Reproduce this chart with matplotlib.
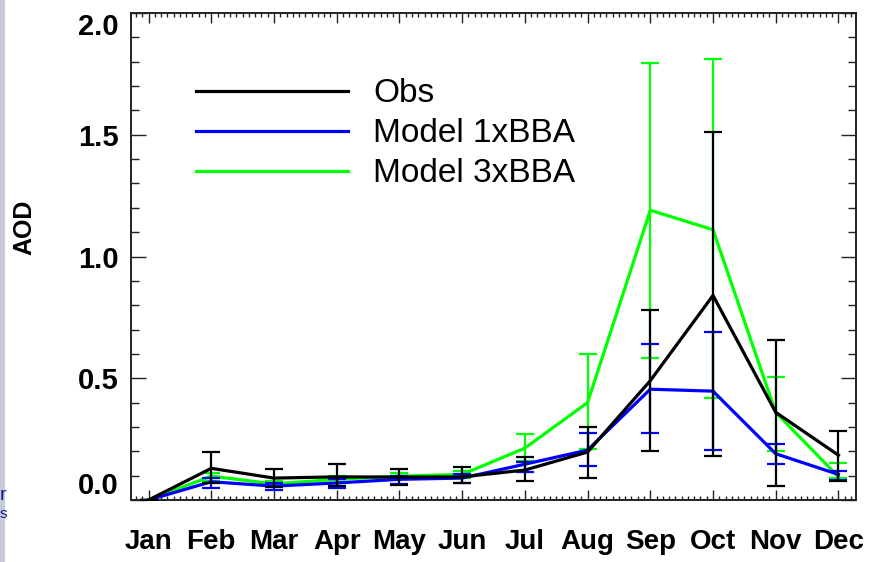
import numpy as np
import matplotlib
matplotlib.use("Agg")
import matplotlib.pyplot as plt
from matplotlib.ticker import MultipleLocator, FixedLocator
from matplotlib.patches import Rectangle

# ── Monthly AOD: observations vs two model runs ───────────────────────────────
months = ["Jan", "Feb", "Mar", "Apr", "May", "Jun",
          "Jul", "Aug", "Sep", "Oct", "Nov", "Dec"]

obs      = [0.00, 0.13, 0.09, 0.095, 0.094, 0.095, 0.123, 0.197, 0.49, 0.84, 0.36, 0.184]
obs_lo   = [0.00, 0.07, 0.053, 0.057, 0.060, 0.070, 0.078, 0.090, 0.20, 0.18, 0.057, 0.080]
obs_hi   = [0.00, 0.197, 0.127, 0.148, 0.127, 0.135, 0.175, 0.300, 0.78, 1.51, 0.656, 0.283]

bba1     = [0.00, 0.075, 0.057, 0.070, 0.085, 0.090, 0.147, 0.205, 0.455, 0.447, 0.190, 0.105]
bba1_lo  = [0.00, 0.050, 0.040, 0.050, 0.065, 0.070, 0.115, 0.140, 0.275, 0.205, 0.147, 0.082]
bba1_hi  = [0.00, 0.090, 0.070, 0.085, 0.100, 0.105, 0.155, 0.276, 0.640, 0.690, 0.230, 0.120]

bba3     = [0.00, 0.098, 0.066, 0.085, 0.098, 0.105, 0.213, 0.400, 1.19, 1.11, 0.360, 0.095]
bba3_lo  = [0.00, 0.080, 0.055, 0.070, 0.085, 0.090, 0.160, 0.210, 0.585, 0.420, 0.200, 0.090]
bba3_hi  = [0.00, 0.110, 0.080, 0.100, 0.110, 0.120, 0.270, 0.600, 1.795, 1.810, 0.505, 0.150]

x = np.arange(1, 13)

def err(v, lo, hi):
    v, lo, hi = map(np.asarray, (v, lo, hi))
    return np.vstack([v - lo, hi - v])

plt.rcParams["font.family"] = "Liberation Sans"

fig = plt.figure(figsize=(8.69, 5.62), dpi=100)
ax = fig.add_axes([131 / 869, 62 / 562, 725 / 869, 487 / 562])

# slide margin strip on the far left
fig.patches.append(Rectangle((0, 0), 5 / 869, 1, transform=fig.transFigure,
                             facecolor="#c6cadb", edgecolor="none", zorder=0))
fig.text(0.0, 62 / 562, "r", color="#14148a", fontsize=14, va="baseline", ha="left")
fig.text(0.0, 44 / 562, "s", color="#14148a", fontsize=11, va="baseline", ha="left")

ebkw = dict(capsize=6.5, capthick=1.6, elinewidth=1.6, linewidth=2.3)
ax.errorbar(x, bba3, yerr=err(bba3, bba3_lo, bba3_hi), color="#00ff00",
            label="Model 3xBBA", zorder=2, **ebkw)
ax.errorbar(x, bba1, yerr=err(bba1, bba1_lo, bba1_hi), color="#0000ff",
            label="Model 1xBBA", zorder=3, **ebkw)
ax.errorbar(x, obs, yerr=err(obs, obs_lo, obs_hi), color="black",
            label="Obs", zorder=4, **ebkw)

ax.set_xlim(0.72, 12.28)
ax.set_ylim(0, 2.0)

ax.xaxis.set_major_locator(FixedLocator(x))
ax.set_xticklabels(months, fontweight="bold")
ax.xaxis.set_minor_locator(MultipleLocator(0.1))
ax.set_yticks([0.0, 0.5, 1.0, 1.5, 2.0])
ax.set_yticklabels(["0.0", "0.5", "1.0", "1.5", "2.0"], fontweight="bold")
ax.yaxis.set_minor_locator(MultipleLocator(0.1))

ax.tick_params(axis="both", which="both", direction="in",
               top=True, right=True, width=1.0, color="#222222")
ax.tick_params(axis="x", which="major", length=7, pad=21, labelsize=20)
ax.tick_params(axis="x", which="minor", length=3)
ax.tick_params(axis="y", which="major", length=11, pad=9, labelsize=21)
ax.tick_params(axis="y", which="minor", length=5.5)

# keep the end labels inside the axis range
ylabels = ax.get_yticklabels()
ylabels[0].set_va("bottom")
ylabels[-1].set_va("top")

for s in ax.spines.values():
    s.set_linewidth(1.4)
    s.set_color("#222222")

ax.set_ylabel("AOD", fontsize=18, fontweight="bold")
ax.yaxis.set_label_coords(-0.130, 0.56)

handles, labels = ax.get_legend_handles_labels()
order = [2, 1, 0]
leg = ax.legend([handles[i][0] for i in order], [labels[i] for i in order],
                loc="upper left", bbox_to_anchor=(0.067, 0.9), frameon=False,
                prop={"family": "Liberation Sans", "size": 24},
                handlelength=4.55, handletextpad=0.75,
                labelspacing=0.27, borderpad=0)
for line in leg.get_lines():
    line.set_linewidth(2.3)

fig.savefig("out.png", dpi=100)
